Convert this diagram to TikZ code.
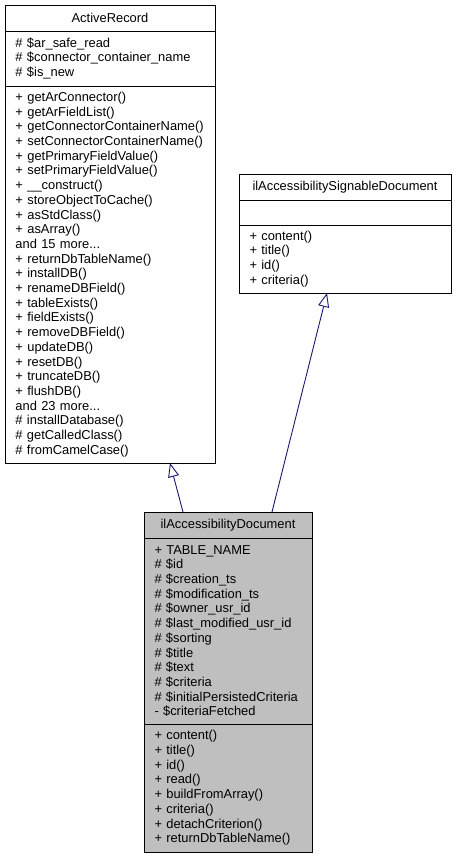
\documentclass[tikz,border=0pt]{standalone}
\usepackage{fontspec}
\setmainfont{Liberation Sans}
\usepackage{xcolor}
\usetikzlibrary{positioning, arrows.meta}
\definecolor{edgeblue}{HTML}{191970}
\definecolor{focusgray}{HTML}{BFBFBF}

\begin{document}
\begin{tikzpicture}[
    x=1pt, y=1pt,
    node distance=0pt,
    umlpart/.style={rectangle, draw=black, line width=0.9pt, outer sep=0pt, inner xsep=10.5pt, inner ysep=2pt, font=\fontsize{12.9}{14.7}\selectfont, align=left},
    classname/.style={umlpart, align=center, minimum height=26pt},
    inherit/.style={draw=edgeblue, line width=0.9pt, -{Triangle[open, length=14pt, width=11pt]}}
]
\useasboundingbox (0,0) rectangle (457,-859);

% Base class ActiveRecord
\node[classname, text width=189pt, anchor=north west] (arName) at (5,-5) {ActiveRecord};
\node[umlpart, text width=189pt, minimum height=55pt, below=of arName] (arAttrs)
    {\# \$ar\_safe\_read\\\# \$connector\_container\_name\\\# \$is\_new};
\node[umlpart, text width=189pt, minimum height=377pt, below=of arAttrs] (arOps)
    {+ getArConnector()\\+ getArFieldList()\\+ getConnectorContainerName()\\+ setConnectorContainerName()\\
     + getPrimaryFieldValue()\\+ setPrimaryFieldValue()\\+ \_\_construct()\\+ storeObjectToCache()\\
     + asStdClass()\\+ asArray()\\and 15 more...\\+ returnDbTableName()\\+ installDB()\\
     + renameDBField()\\+ tableExists()\\+ fieldExists()\\+ removeDBField()\\+ updateDB()\\
     + resetDB()\\+ truncateDB()\\+ flushDB()\\and 23 more...\\\# installDatabase()\\
     \# getCalledClass()\\\# fromCamelCase()};

% Interface ilAccessibilitySignableDocument
\node[classname, text width=191pt, anchor=north west] (sigName) at (239,-174) {ilAccessibilitySignableDocument};
\node[umlpart, text width=191pt, minimum height=25pt, below=of sigName] (sigAttrs) {};
\node[umlpart, text width=191pt, minimum height=68pt, below=of sigAttrs] (sigOps)
    {+ content()\\+ title()\\+ id()\\+ criteria()};

% Derived class ilAccessibilityDocument
\node[classname, fill=focusgray, text width=147pt, anchor=north west] (docName) at (144,-512) {ilAccessibilityDocument};
\node[umlpart, fill=focusgray, text width=147pt, minimum height=186pt, below=of docName] (docAttrs)
    {+ TABLE\_NAME\\\# \$id\\\# \$creation\_ts\\\# \$modification\_ts\\\# \$owner\_usr\_id\\
     \# \$last\_modified\_usr\_id\\\# \$sorting\\\# \$title\\\# \$text\\\# \$criteria\\
     \# \$initialPersistedCriteria\\- \$criteriaFetched};
\node[umlpart, fill=focusgray, text width=147pt, minimum height=128pt, below=of docAttrs] (docOps)
    {+ content()\\+ title()\\+ id()\\+ read()\\+ buildFromArray()\\+ criteria()\\
     + detachCriterion()\\+ returnDbTableName()};

% Inheritance edges
\draw[inherit] ([xshift=39pt]docName.north west) -- ([xshift=60pt]arOps.south);
\draw[inherit] ([xshift=128pt]docName.north west) -- ([xshift=-18pt]sigOps.south);
\end{tikzpicture}
\end{document}
